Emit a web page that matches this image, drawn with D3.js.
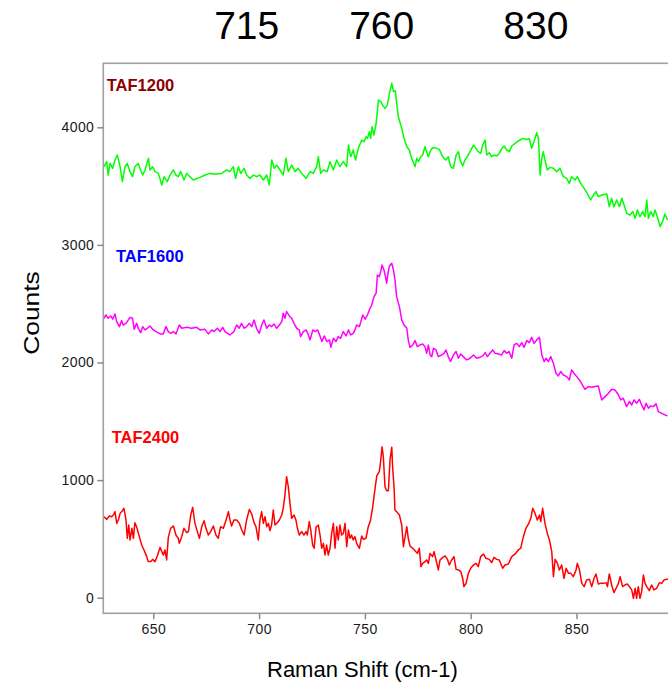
<!DOCTYPE html>
<html><head><meta charset="utf-8">
<script src="https://cdn.jsdelivr.net/npm/d3@7"></script>
<style>
html,body{margin:0;padding:0;background:#fff;}
svg{display:block;font-family:"Liberation Sans",Arial,sans-serif;}
</style></head>
<body><svg id="c" width="668" height="683"></svg>
<script>
// ---- data (Raman shift cm-1, counts) ----
const seriesNames = ["TAF1200","TAF1600","TAF2400"];
const peakLabels = ["715","760","830"];
const xTicks = [650,700,750,800,850];
const yTicks = [0,1000,2000,3000,4000];

const taf1200 = [
[626.7,3665],[628.0,3708],[628.7,3594],[629.5,3693],[630.8,3651],[631.9,3722],[633.0,3764],[634.3,3665],[635.4,3538],[636.6,3665],
[637.7,3693],[639.0,3623],[640.2,3580],[641.3,3665],[642.9,3693],[644.0,3637],[645.0,3594],[646.1,3637],[647.7,3736],[648.4,3637],
[649.7,3665],[650.8,3623],[652.4,3608],[654.0,3509],[655.1,3580],[656.6,3538],[657.9,3594],[659.5,3637],[660.7,3594],[661.8,3580],
[663.0,3623],[664.5,3552],[665.8,3608],[667.3,3580],[668.9,3552],[672.1,3574],[674.4,3594],[676.8,3608],[679.2,3600],[682.3,3608],
[684.7,3637],[686.2,3623],[687.8,3665],[688.9,3566],[690.2,3665],[691.3,3608],[692.9,3651],[694.1,3594],[695.7,3566],[697.3,3594],
[698.8,3580],[700.4,3594],[702.0,3552],[703.6,3594],[704.8,3509],[706.0,3722],[707.2,3651],[708.3,3679],[709.9,3637],[711.4,3594],
[712.7,3736],[713.8,3623],[715.4,3679],[717.0,3623],[718.5,3651],[720.1,3608],[722.2,3566],[724.1,3623],[725.6,3608],[727.2,3665],
[728.0,3750],[729.1,3608],[730.4,3637],[732.2,3623],[733.5,3708],[735.1,3637],[736.7,3722],[738.2,3665],[739.8,3708],[741.4,3665],
[742.2,3849],[743.3,3750],[744.5,3807],[745.6,3722],[746.9,3821],
[748.5,3892],[749.6,3878],[750.5,3920],[751.2,3906],[752.1,3963],[752.7,3906],[753.4,4005],[754.3,3934],[755.3,4034],[756.4,4232],
[757.5,4218],[758.4,4189],[759.5,4161],[760.6,4189],[761.6,4289],[762.7,4374],[763.5,4303],[764.4,4311],[765.0,4204],[765.8,4090],
[767.4,3991],[768.5,3906],[769.8,3835],[771.0,3807],[772.1,3736],[773.7,3665],[774.5,3736],[775.3,3708],[776.4,3750],[777.3,3764],
[778.4,3835],[779.2,3793],[780.0,3750],[781.1,3807],[782.4,3829],[783.9,3821],[785.2,3812],[786.3,3764],[787.4,3736],[788.3,3722],
[789.4,3750],[790.5,3665],[791.8,3651],[793.1,3764],[794.2,3793],[795.0,3722],[796.2,3671],[797.3,3722],[798.4,3750],[799.7,3793],
[801.3,3849],[802.5,3821],[803.6,3793],[804.7,3778],[805.7,3849],[806.8,3892],[807.6,3764],[808.8,3784],[809.9,3750],[811.0,3764],
[812.3,3756],[813.5,3778],[814.7,3821],[815.8,3841],[817.0,3807],[818.3,3793],[819.4,3841],[821.0,3863],[822.1,3878],[823.3,3892],
[824.6,3906],[826.2,3897],[827.7,3903],[828.8,3821],[829.9,3878],[831.2,3954],[832.0,3906],[832.8,3594],[833.6,3736],[834.3,3793],
[835.1,3722],[836.2,3637],[837.5,3659],[839.1,3651],[840.6,3623],[842.2,3651],[843.8,3580],[845.4,3566],[846.6,3523],[847.7,3580],
[849.3,3552],[850.4,3580],[852.0,3523],[853.6,3481],[855.1,3438],[856.7,3382],[858.0,3424],[859.2,3453],[860.3,3410],[861.9,3424],
[864.3,3433],[865.5,3325],[866.6,3396],[867.7,3325],[869.0,3382],[870.3,3325],[871.4,3396],[872.5,3339],[873.7,3268],[875.3,3254],
[876.6,3283],[877.7,3226],[878.8,3297],[880.0,3240],[881.3,3283],[882.4,3240],[883.2,3382],[884.0,3226],[885.1,3283],[886.3,3240],
[887.1,3297],[888.2,3240],[889.5,3155],[890.7,3198],[891.8,3263],[893.0,3212]
];

const taf1600 = [
[626.7,2376],[627.6,2404],[628.7,2376],[629.9,2396],[630.8,2368],[631.9,2413],[632.7,2348],[634.0,2305],[635.0,2356],[635.8,2319],
[637.1,2333],[638.2,2362],[639.0,2384],[640.2,2376],[641.0,2282],[642.1,2333],[642.9,2291],[644.0,2254],[645.0,2305],[646.1,2277],
[647.2,2291],[648.4,2311],[649.7,2282],[651.3,2263],[653.2,2243],[654.7,2243],[656.0,2305],[657.1,2263],[658.2,2248],[659.5,2263],
[660.7,2243],[662.3,2319],[663.4,2291],[665.8,2299],[668.1,2291],[670.5,2299],[672.1,2277],[674.4,2282],[676.0,2243],[677.6,2277],
[678.7,2263],[680.3,2291],[681.5,2263],[682.8,2299],[683.9,2263],[686.2,2234],[688.1,2263],[689.4,2319],[690.6,2291],[691.7,2333],
[692.9,2291],[694.1,2305],[695.4,2333],[696.5,2305],[697.6,2362],[698.8,2291],[700.1,2248],[701.2,2319],[702.3,2362],[703.6,2291],
[704.8,2319],[705.9,2305],[707.0,2328],[708.3,2291],[709.6,2319],[710.7,2348],[711.4,2419],[712.2,2376],[713.0,2433],[714.3,2396],
[715.4,2376],[716.5,2333],[717.8,2291],[719.0,2277],[719.6,2220],[720.9,2263],[722.2,2277],[723.3,2234],[724.1,2192],[725.4,2277],
[726.5,2263],[727.7,2277],[728.6,2234],[729.7,2178],[730.8,2226],[732.0,2178],[733.3,2192],[733.9,2129],[735.1,2206],[736.3,2178],
[737.4,2220],[738.5,2206],[739.8,2263],[741.1,2226],[742.2,2277],[743.3,2234],[744.5,2248],[745.3,2277],[746.1,2319],[747.4,2305],
[749.0,2404],[750.1,2368],[751.2,2404],[752.1,2447],[753.2,2489],[754.3,2560],[755.3,2589],[755.9,2744],[756.8,2730],[757.5,2773],
[758.1,2829],[759.0,2787],[759.7,2730],[760.3,2674],[760.9,2759],[761.6,2821],[762.7,2844],[763.5,2787],[764.2,2702],[765.0,2560],
[766.3,2475],[767.4,2362],[768.5,2319],[769.8,2291],[770.5,2192],[771.3,2129],[772.6,2149],[773.7,2186],[774.8,2135],[776.1,2149],
[777.3,2158],[778.4,2135],[779.2,2078],[780.0,2149],[780.8,2064],[781.6,2050],[782.4,2121],[783.6,2107],[784.7,2050],[786.3,2064],
[787.4,2078],[788.3,2107],[789.4,2050],[790.5,2008],[791.8,2064],[793.1,2093],[794.2,2036],[795.3,2073],[796.5,2050],[798.1,2022],
[799.7,2036],[801.3,2064],[802.8,2036],[804.4,2044],[805.7,2056],[806.8,2084],[807.9,2050],[809.1,2078],[810.4,2107],[811.5,2078],
[813.1,2073],[814.6,2064],[815.8,2101],[817.0,2078],[818.1,2093],[819.4,2036],[820.5,2149],[821.7,2163],[823.0,2135],[824.1,2169],
[825.2,2129],[826.5,2186],[827.7,2169],[828.8,2214],[829.9,2163],[831.2,2192],[832.5,2214],[833.6,2064],[834.7,2008],[835.6,2036],
[836.7,2008],[837.8,2050],[839.1,1993],[840.3,1908],[841.4,1886],[842.5,1923],[843.8,1894],[845.4,1880],[846.6,1852],[847.7,1937],
[848.8,1908],[850.1,1880],[851.4,1852],[852.5,1818],[854.0,1772],[855.6,1795],[857.2,1789],[858.8,1795],[860.3,1801],[861.9,1682],
[863.5,1710],[865.1,1738],[866.6,1772],[868.2,1767],[869.8,1724],[870.9,1682],[872.1,1696],[873.7,1625],[875.0,1668],[876.1,1639],
[877.2,1682],[878.4,1653],[879.7,1687],[880.8,1639],[881.9,1597],[882.9,1653],[884.0,1611],[885.1,1631],[886.3,1625],[887.6,1648],
[888.7,1582],[890.3,1568],[891.8,1554],[893.0,1546]
];

const taf2400 = [
[626.7,689],[628.0,666],[629.2,695],[630.3,689],[631.1,703],[631.9,732],[632.7,632],[633.5,661],[634.3,717],[635.4,740],
[636.1,760],[637.1,661],[637.7,505],[638.4,618],[639.0,491],[639.9,590],[640.6,505],[641.3,638],[642.1,604],[643.4,519],
[644.5,448],[645.6,406],[646.9,349],[647.6,307],[648.8,307],[649.7,326],[650.8,307],[651.9,355],[653.2,428],[654.0,392],
[654.7,363],[655.5,406],[656.3,321],[657.1,513],[658.2,590],[659.5,610],[660.7,533],[661.8,505],[662.3,462],[663.4,519],
[664.5,590],[665.8,553],[666.6,562],[667.7,703],[668.6,768],[669.7,632],[670.8,562],[671.8,505],[672.9,604],[674.0,655],
[674.9,590],[676.0,533],[677.1,562],[678.4,610],[679.6,533],[680.7,505],[681.8,604],[683.1,590],[684.4,661],[685.5,732],
[686.2,666],[687.0,610],[688.1,661],[689.4,661],[690.7,632],[691.8,576],[692.9,533],[694.1,661],[695.4,751],[696.5,712],
[697.6,638],[698.5,604],[699.6,491],[700.4,661],[701.2,732],[702.0,632],[702.8,689],[703.6,604],[704.4,632],[705.1,570],
[705.9,618],[706.7,746],[707.5,618],[708.6,638],[709.6,661],[710.7,703],[711.4,760],[712.2,873],[713.0,1029],[713.8,944],
[714.6,802],[715.4,675],[716.5,703],[717.4,661],[718.1,590],[719.0,533],[720.1,562],[721.2,533],[722.2,562],[722.8,533],
[723.7,647],[724.4,576],[725.3,448],[726.0,420],[726.9,598],[728.0,618],[728.8,533],[729.6,420],[730.4,462],[731.1,363],
[731.9,448],[732.7,363],[733.5,420],[734.3,547],[735.1,632],[735.9,420],[736.7,604],[737.4,491],[738.2,618],[739.0,533],
[739.8,547],[740.6,632],[741.4,434],[742.2,576],[743.0,505],[743.7,533],[744.5,491],[745.3,519],[746.1,462],[747.4,420],
[748.5,525],[749.3,496],[750.5,505],[751.6,604],[752.7,661],[753.7,774],[754.8,930],[755.6,1035],[756.8,1072],[757.5,1171],
[758.1,1284],[758.7,1199],[759.5,944],[760.3,910],[761.1,910],[761.9,1177],[762.7,1279],[763.1,1114],[763.8,930],[764.2,746],
[765.0,732],[766.3,703],[767.4,618],[768.2,434],[769.0,519],[769.8,604],[770.5,505],[771.3,440],[772.6,420],[773.7,400],
[774.8,377],[775.7,420],[776.5,264],[777.3,292],[778.4,307],[779.2,321],[780.0,292],[780.8,377],[782.0,349],[782.7,392],
[783.6,321],[784.7,236],[785.5,321],[786.8,343],[787.9,355],[789.0,326],[789.9,278],[791.0,321],[792.1,349],[793.1,241],
[794.2,236],[795.3,222],[796.2,165],[796.8,94],[797.8,122],[798.9,207],[800.0,250],[801.3,278],[802.5,292],[803.6,264],
[804.7,349],[806.0,372],[807.2,335],[808.8,326],[809.9,298],[811.0,343],[812.3,326],[813.5,321],[815.1,250],[816.2,278],
[817.8,287],[819.4,349],[821.0,372],[822.5,406],[823.6,420],[824.9,519],[826.1,590],[827.3,627],[828.4,675],[829.3,760],
[830.4,717],[831.5,661],[832.5,703],[833.1,647],[834.0,760],[835.1,632],[836.2,547],[837.2,491],[838.3,392],[839.1,179],
[839.9,326],[841.0,292],[841.9,236],[843.0,278],[844.1,165],[845.1,250],[846.2,207],[847.3,207],[848.5,179],[849.8,236],
[850.4,292],[851.4,236],[852.5,122],[853.6,94],[854.8,151],[856.1,156],[857.2,94],[858.3,165],[859.2,202],[860.3,117],
[861.4,122],[862.7,122],[864.0,128],[864.6,94],[865.5,202],[866.6,108],[867.7,43],[868.7,80],[869.8,122],[870.6,179],
[871.8,94],[872.9,108],[874.0,117],[875.0,94],[876.1,66],[876.9,-5],[877.7,80],[878.4,-5],[879.2,94],[880.0,-5],
[880.8,52],[881.6,193],[882.4,122],[883.2,94],[884.4,60],[885.5,108],[886.6,66],[887.9,80],[889.2,128],[890.3,122],
[891.4,151],[892.3,156],[893.3,156]
];

const seriesData = [taf1200, taf1600, taf2400];
const lineColors = ["#00ff00","#ff00ff","#ff0000"];
const labelColors = ["#8b0000","#0000ff","#ff0000"];

// ---- layout ----
(function draw(){
const svg = d3.select("#c");
const pLeft = 103.3, pTop = 63.3, pBottom = 613.3;
const x = d3.scaleLinear().domain([650, 850]).range([153.3, 576.5]);
const y = d3.scaleLinear().domain([0, 4000]).range([597.7, 127.3]);
const xMax = x.invert(684);
const pRight = x(xMax);

svg.append("rect").attr("width",668).attr("height",683).attr("fill","#fff");

svg.append("defs").append("clipPath").attr("id","clip")
  .append("rect").attr("x",pLeft).attr("y",pTop).attr("width",pRight-pLeft).attr("height",pBottom-pTop);

// frame
svg.append("rect").attr("x",pLeft).attr("y",pTop).attr("width",pRight-pLeft).attr("height",pBottom-pTop)
  .attr("fill","none").attr("stroke","#a0a0a0").attr("stroke-width",1.6);

// axes
const yAxis = d3.axisLeft(y).tickValues(yTicks).tickSize(6).tickPadding(3).tickFormat(d3.format("d"));
const gy = svg.append("g").attr("transform",`translate(${pLeft},0)`).call(yAxis);
const xAxis = d3.axisBottom(x).tickValues(xTicks).tickSize(6).tickPadding(5).tickFormat(d3.format("d"));
const gx = svg.append("g").attr("transform",`translate(0,${pBottom})`).call(xAxis);
[gx, gy].forEach(g => {
  g.select(".domain").remove();
  g.selectAll(".tick line").attr("stroke","#8a8a8a").attr("stroke-width",1.5);
  g.selectAll(".tick text").attr("fill","#1a1a1a").style("font-size","14px")
    .style("font-family","'Liberation Sans',Arial,sans-serif").style("letter-spacing","0.4px");
});

// lines
const line = d3.line().x(d => x(d[0])).y(d => y(d[1]));
const gl = svg.append("g").attr("clip-path","url(#clip)");
seriesData.forEach((s, i) => {
  gl.append("path").datum(s).attr("d", line).attr("fill","none")
    .attr("stroke", lineColors[i]).attr("stroke-width",1.5).attr("stroke-linejoin","round");
});

// series labels
const labelPos = [[106.7,90.7],[116,261.7],[111.7,442.7]];
seriesNames.forEach((n, i) => {
  svg.append("text").attr("x",labelPos[i][0]).attr("y",labelPos[i][1]).text(n)
    .attr("fill",labelColors[i]).style("font-size","16.5px").style("font-weight","bold");
});

// peak labels at top
const peakPos = [246.7, 381.7, 535.8];
peakLabels.forEach((t, i) => {
  svg.append("text").attr("x",peakPos[i]).attr("y",38.5).attr("text-anchor","middle")
    .text(t).attr("fill","#000").style("font-size","39px");
});

// axis titles
svg.append("text").attr("x",267).attr("y",677).text("Raman Shift (cm-1)")
  .attr("fill","#000").style("font-size","22px");
svg.append("text").attr("transform","translate(39,313) rotate(-90) scale(1.2,1)").attr("text-anchor","middle")
  .text("Counts").attr("fill","#000").style("font-size","22px");
})();
</script></body></html>
